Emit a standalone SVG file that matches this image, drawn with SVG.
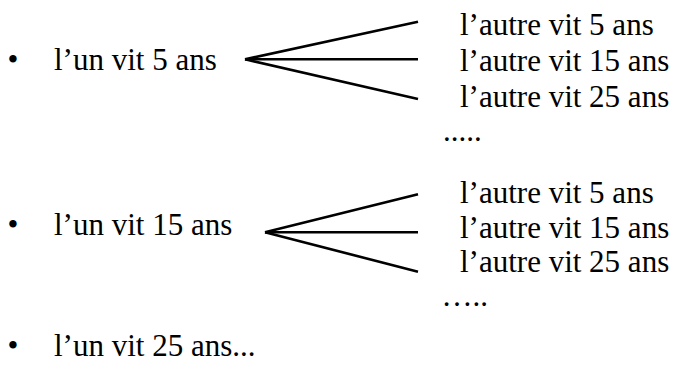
<svg xmlns="http://www.w3.org/2000/svg" width="674" height="367" viewBox="0 0 674 367">
<style>
text { font-size: 31px; fill: #000; }
.c line { stroke: #000; stroke-width: 2.6; stroke-linecap: butt; }
</style>
<rect width="674" height="367" fill="#fff"/>
<g font-family="'Liberation Serif', 'DejaVu Serif', serif">
<g id="n1"><text x="7.6" y="70">•</text><text x="54" y="70">l’un vit 5 ans</text></g>
<g id="n1a"><text x="460" y="34.5">l’autre vit 5 ans</text></g>
<g id="n1b"><text x="460" y="70.5">l’autre vit 15 ans</text></g>
<g id="n1c"><text x="460" y="106.5">l’autre vit 25 ans</text></g>
<g id="n1d"><text x="443" y="141">.....</text></g>
<g id="n2"><text x="7.6" y="235">•</text><text x="54" y="235">l’un vit 15 ans</text></g>
<g id="n2a"><text x="460" y="203">l’autre vit 5 ans</text></g>
<g id="n2b"><text x="460" y="237.5">l’autre vit 15 ans</text></g>
<g id="n2c"><text x="460" y="272">l’autre vit 25 ans</text></g>
<g id="n2d"><text x="441.5" y="306">…..</text></g>
<g id="n3"><text x="7.6" y="356">•</text><text x="54" y="356">l’un vit 25 ans...</text></g>
</g>
<g id="connectors" class="c">
<line x1="245" y1="59.3" x2="418" y2="21.7"/>
<line x1="245" y1="59.3" x2="418" y2="59.3"/>
<line x1="245" y1="59.3" x2="418" y2="99"/>
<line x1="265" y1="232.3" x2="418" y2="194.3"/>
<line x1="265" y1="232.3" x2="418" y2="232.3"/>
<line x1="265" y1="232.3" x2="418" y2="271.7"/>
</g>
</svg>
